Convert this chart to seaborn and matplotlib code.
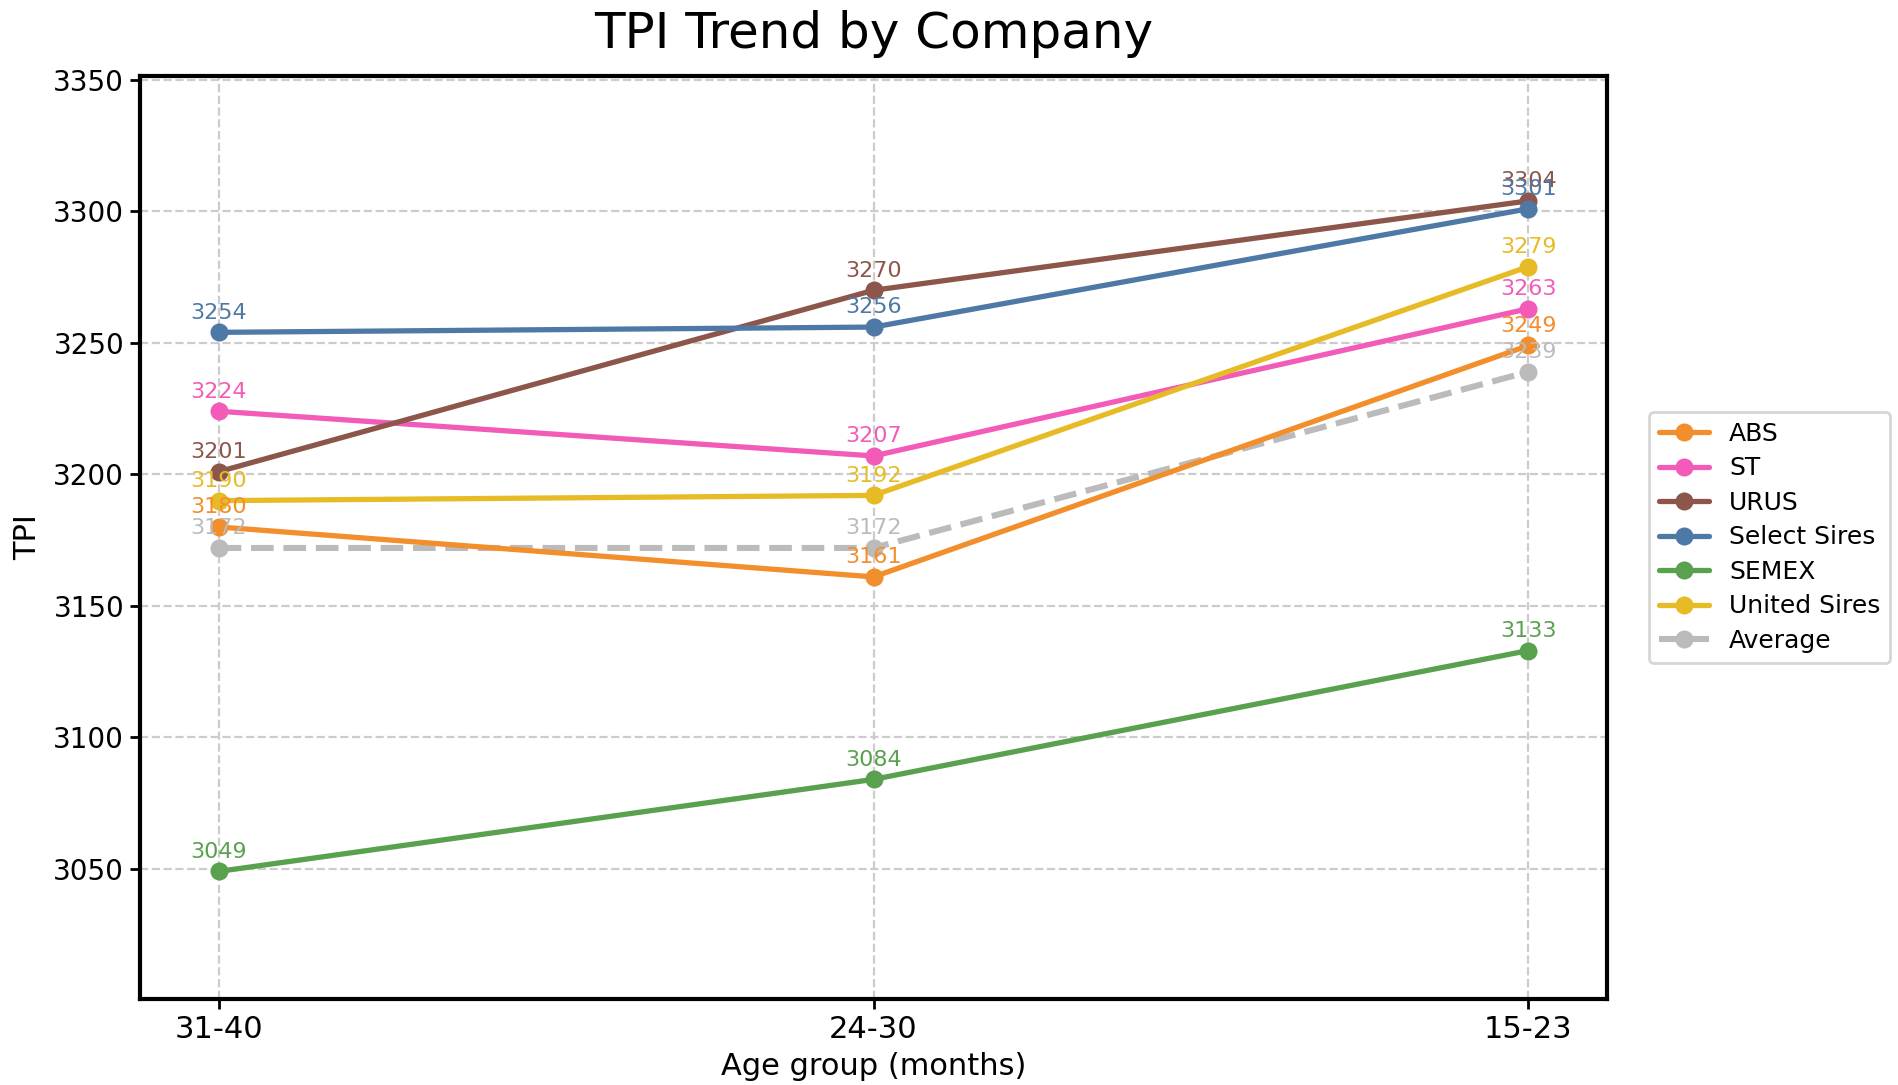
import matplotlib
matplotlib.use("Agg")
import matplotlib.pyplot as plt
import pandas as pd
import seaborn as sns


AGE_GROUPS = ["31-40", "24-30", "15-23"]

COMPANIES = ["ABS", "ST", "URUS", "Select Sires", "SEMEX", "United Sires", "Average"]

ABS = [3180, 3161, 3249]
ST = [3224, 3207, 3263]
URUS = [3201, 3270, 3304]
SELECT_SIRES = [3254, 3256, 3301]
SEMEX = [3049, 3084, 3133]
UNITED_SIRES = [3190, 3192, 3279]
AVERAGE = [3172, 3172, 3239]

COLORS = {
    "ABS": "#F28E2B",
    "ST": "#F25CB8",
    "URUS": "#8C564B",
    "Select Sires": "#4E79A7",
    "SEMEX": "#59A14F",
    "United Sires": "#E6BB26",
    "Average": "#BBBBBB",
}


def build_frame() -> pd.DataFrame:
    values = [ABS, ST, URUS, SELECT_SIRES, SEMEX, UNITED_SIRES, AVERAGE]
    rows = []
    for company, series in zip(COMPANIES, values):
        for age, tpi in zip(AGE_GROUPS, series):
            rows.append({"company": company, "age": age, "tpi": tpi})
    return pd.DataFrame(rows)


def main() -> None:
    df = build_frame()
    df["pos"] = df["age"].map({a: i for i, a in enumerate(AGE_GROUPS)})

    sns.set_style("white")
    plt.rcParams["font.family"] = ["DejaVu Sans"]
    for key in ["text.color", "axes.labelcolor", "xtick.color", "ytick.color"]:
        plt.rcParams[key] = "black"

    fig, ax = plt.subplots(figsize=(9.49, 5.425), dpi=200)
    fig.subplots_adjust(left=0.0738, right=0.8467, top=0.930, bottom=0.0793)

    for company in COMPANIES:
        sub = df[df["company"] == company]
        is_avg = company == "Average"
        sns.lineplot(
            data=sub,
            x="pos",
            y="tpi",
            ax=ax,
            color=COLORS[company],
            marker="o",
            markersize=6.5,
            markeredgewidth=0,
            linewidth=2.2 if is_avg else 1.9,
            linestyle="--" if is_avg else "-",
            label=company,
            sort=False,
            zorder=2 if is_avg else 3,
        )
        for _, r in sub.iterrows():
            ax.annotate(
                f"{r['tpi']}",
                (r["pos"], r["tpi"]),
                xytext=(0, 3.5),
                textcoords="offset points",
                ha="center",
                va="bottom",
                fontsize=8,
                color=COLORS[company],
                zorder=4,
            )

    ax.set_xlim(-0.12, 2.12)
    ax.set_ylim(3000.5, 3351.5)
    ax.set_xticks(range(len(AGE_GROUPS)))
    ax.set_xticklabels(AGE_GROUPS, fontsize=11)
    ax.tick_params(axis="y", labelsize=10)
    ax.tick_params(axis="both", bottom=True, left=True, length=3.5, width=1,
                   pad=2.2, color="black")
    ax.set_yticks([3050, 3100, 3150, 3200, 3250, 3300, 3350])

    ax.grid(True, linestyle="--", color="#cccccc", linewidth=0.8)
    for spine in ax.spines.values():
        spine.set_linewidth(1.5)
        spine.set_color("black")

    ax.set_title("TPI Trend by Company", fontsize=18, pad=10)
    ax.set_xlabel("Age group (months)", fontsize=11, labelpad=3)
    ax.set_ylabel("TPI", fontsize=11)

    ax.legend(loc="center left", bbox_to_anchor=(1.02, 0.5), fontsize=9,
              labelspacing=0.42)

    fig.savefig("out.png", dpi=200)
    plt.close(fig)


if __name__ == "__main__":
    main()
